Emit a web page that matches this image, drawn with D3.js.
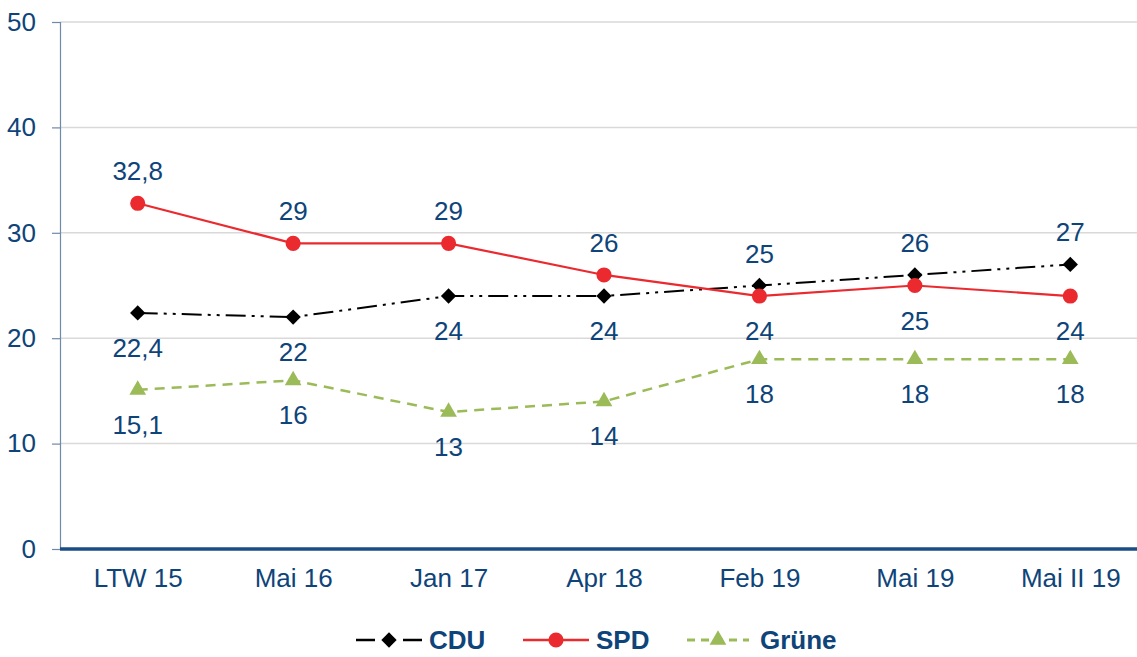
<!DOCTYPE html>
<html>
<head>
<meta charset="utf-8">
<script src="https://cdn.jsdelivr.net/npm/d3@7"></script>
<style>
  body { margin: 0; background: #fff; }
  text { font-family: "Liberation Sans", Arial, sans-serif; }
</style>
</head>
<body>
<div class="container"></div>
<script>
// data
let categories = ['LTW 15', 'Mai 16', 'Jan 17', 'Apr 18', 'Feb 19', 'Mai 19', 'Mai II 19'];
let cdu = [22.4, 22, 24, 24, 25, 26, 27];
let spd = [32.8, 29, 29, 26, 24, 25, 24];
let gruene = [15.1, 16, 13, 14, 18, 18, 18];
// label above (-1) or below (+1)
let cduPos = [1, 1, 1, 1, -1, -1, -1];
let spdPos = [-1, -1, -1, -1, 1, 1, 1];
let gruenePos = [1, 1, 1, 1, 1, 1, 1];
let yTicks = [0, 10, 20, 30, 40, 50];

let outerWidth = 1137, outerHeight = 657;
let margin = {top: 22, right: 0, bottom: 108, left: 60};
let height = outerHeight - margin.top - margin.bottom;
let fontSize = '26px';

let svg = d3.select('.container').append('svg')
  .attr('width', outerWidth)
  .attr('height', outerHeight);

let xScale = d3.scalePoint()
  .domain(categories)
  .range([60, 1148])
  .padding(0.5);

let yScale = d3.scaleLinear()
  .domain([0, 50])
  .range([margin.top + height, margin.top]);

let textColor = '#0e4479';

// gridlines
svg.append('g').selectAll('line')
  .data(yTicks.filter(d => d > 0))
  .enter().append('line')
  .attr('x1', 60).attr('x2', 1137)
  .attr('y1', d => yScale(d)).attr('y2', d => yScale(d))
  .attr('stroke', '#d9d9d9').attr('stroke-width', 1.5);

// y axis
let yAxis = d3.axisLeft(yScale).tickValues(yTicks).tickSize(8).tickPadding(16);
let yg = svg.append('g')
  .attr('transform', 'translate(60,0)')
  .call(yAxis);
yg.select('.domain').attr('stroke', '#6f89a8').attr('stroke-width', 1.2);
yg.selectAll('.tick line').attr('stroke', '#6f89a8').attr('stroke-width', 1.2);
yg.selectAll('.tick text')
  .attr('fill', textColor).style('font-size', fontSize)
  .style('font-family', '"Liberation Sans", Arial, sans-serif');

// x axis
let xAxis = d3.axisBottom(xScale).tickSize(0).tickPadding(20);
let xg = svg.append('g')
  .attr('transform', `translate(0,${yScale(0)})`)
  .call(xAxis);
xg.select('.domain').remove();
xg.selectAll('.tick text')
  .attr('fill', textColor).style('font-size', fontSize)
  .style('font-family', '"Liberation Sans", Arial, sans-serif');
svg.append('line')
  .attr('x1', 60).attr('x2', 1137)
  .attr('y1', yScale(0)).attr('y2', yScale(0))
  .attr('stroke', '#1b4d85').attr('stroke-width', 3.5);

let series = [
  {name: 'CDU', values: cdu, pos: cduPos, color: '#000', dash: '20,6,3,6,3,6', legendDash: '19,28,21', width: 2, marker: 'diamond'},
  {name: 'SPD', values: spd, pos: spdPos, color: '#ea2a2f', dash: null, legendDash: null, width: 2.2, marker: 'circle'},
  {name: 'Grüne', values: gruene, pos: gruenePos, color: '#9bbb59', dash: '10,7', legendDash: '8,6', width: 2.5, marker: 'triangle'}
];

let symbolFor = m => m === 'diamond' ? d3.symbol(d3.symbolDiamond2, 150)
  : m === 'circle' ? d3.symbol(d3.symbolCircle, 180)
  : d3.symbol(d3.symbolTriangle2, 200);

let line = d3.line()
  .x((d, i) => xScale(categories[i]))
  .y(d => yScale(d));

series.forEach(s => {
  let g = svg.append('g');
  g.append('path')
    .attr('d', line(s.values))
    .attr('fill', 'none')
    .attr('stroke', s.color)
    .attr('stroke-width', s.width)
    .attr('stroke-dasharray', s.dash);
  g.selectAll('path.mk')
    .data(s.values)
    .enter().append('path')
    .attr('class', 'mk')
    .attr('d', symbolFor(s.marker))
    .attr('transform', (d, i) => `translate(${xScale(categories[i])},${yScale(d)})`)
    .attr('fill', s.color);
  g.selectAll('text')
    .data(s.values)
    .enter().append('text')
    .attr('x', (d, i) => xScale(categories[i]))
    .attr('y', (d, i) => yScale(d) + (s.pos[i] > 0 ? 44 : -23))
    .attr('text-anchor', 'middle')
    .attr('fill', textColor)
    .style('font-size', fontSize)
    .text(d => String(d).replace('.', ','));
});

// legend
let legend = svg.append('g').attr('transform', 'translate(0,640)');
let legendX = [356, 523, 687];
series.forEach((s, i) => {
  let lg = legend.append('g').attr('transform', `translate(${legendX[i]},0)`);
  lg.append('line')
    .attr('x1', 0).attr('x2', s.name === 'Grüne' ? 62 : 66)
    .attr('stroke', s.color).attr('stroke-width', s.width + 0.5)
    .attr('stroke-dasharray', s.legendDash);
  lg.append('path')
    .attr('d', symbolFor(s.marker))
    .attr('transform', `translate(${s.name === 'Grüne' ? 31 : 33},0)`)
    .attr('fill', s.color);
  lg.append('text')
    .attr('x', 73)
    .attr('y', 9)
    .attr('fill', textColor)
    .style('font-size', fontSize)
    .style('font-weight', 'bold')
    .text(s.name);
});
</script>
</body>
</html>
